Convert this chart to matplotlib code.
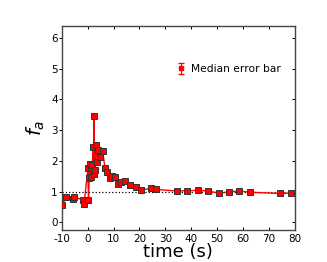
import numpy as np
import matplotlib
matplotlib.use("Agg")
import matplotlib.pyplot as plt
import matplotlib.lines as mlines

plt.rcParams["axes.unicode_minus"] = False

# time (s) and f_a values
time_s = [-10.0, -8.2, -5.6, -5.1, -1.9, -1.4, 0.1, 0.3, 0.6, 0.8, 1.3, 1.4,
          1.8, 2.1, 2.3, 2.4, 2.7, 3.2, 3.7, 4.1, 4.7, 5.8, 6.7, 7.6, 8.7,
          9.5, 10.6, 11.8, 12.7, 14.6, 16.5, 18.6, 20.6, 24.6, 26.5, 34.5,
          38.5, 42.6, 46.7, 50.6, 54.6, 58.6, 62.6, 74.4, 78.5]
f_a = [0.56, 0.84, 0.76, 0.81, 0.74, 0.59, 1.76, 0.72, 1.45, 1.91, 1.46, 1.76,
       1.87, 2.45, 1.57, 3.46, 1.70, 2.52, 1.95, 2.35, 2.13, 2.32, 1.76, 1.63,
       1.44, 1.52, 1.49, 1.25, 1.30, 1.33, 1.21, 1.16, 1.05, 1.11, 1.07, 1.02,
       1.03, 1.04, 1.02, 0.95, 0.99, 1.02, 0.98, 0.94, 0.95]

# median error bar shown in the legend
median_err = 0.15

fig = plt.figure(figsize=(3.27, 2.62), dpi=100)
ax = fig.add_axes([0.189, 0.122, 0.712, 0.780])

ax.axhline(1.0, color="k", linestyle=":", linewidth=0.9, zorder=1)
ax.plot(time_s, f_a, "-", color="red", linewidth=1.0, zorder=2)
ax.plot(time_s, f_a, "s", color="red", markersize=4.5,
        markeredgecolor="#333333", markeredgewidth=0.7, zorder=3)

ax.errorbar([np.nan], [np.nan], yerr=[median_err], fmt="s", color="red",
            markersize=3.5, capsize=2, elinewidth=0.8, label="Median error bar")

ax.set_xlim(-10, 80)
ax.set_ylim(-0.25, 6.4)
ax.set_xticks(np.arange(-10, 81, 10))
ax.set_yticks(np.arange(0, 7, 1))
ax.tick_params(direction="in", top=True, right=True, labelsize=7.5,
               length=2.2, width=0.7, pad=3)
# left ticks point outwards, right ticks inwards
for t in ax.yaxis.get_major_ticks():
    t.tick1line.set_marker(mlines.TICKLEFT)
    t.tick2line.set_marker(mlines.TICKLEFT)
for sp in ax.spines.values():
    sp.set_color("#444444")
    sp.set_linewidth(1.0)

ax.set_xlabel("time (s)", fontsize=13, labelpad=-1)
ax.set_ylabel("$f_a$", fontsize=14, labelpad=3)

ax.legend(loc="center left", bbox_to_anchor=(0.489, 0.788), frameon=False,
          borderaxespad=0, borderpad=0,
          fontsize=7.7, handlelength=1.0, handletextpad=0.45, numpoints=1)

fig.savefig("out.png", dpi=100)
